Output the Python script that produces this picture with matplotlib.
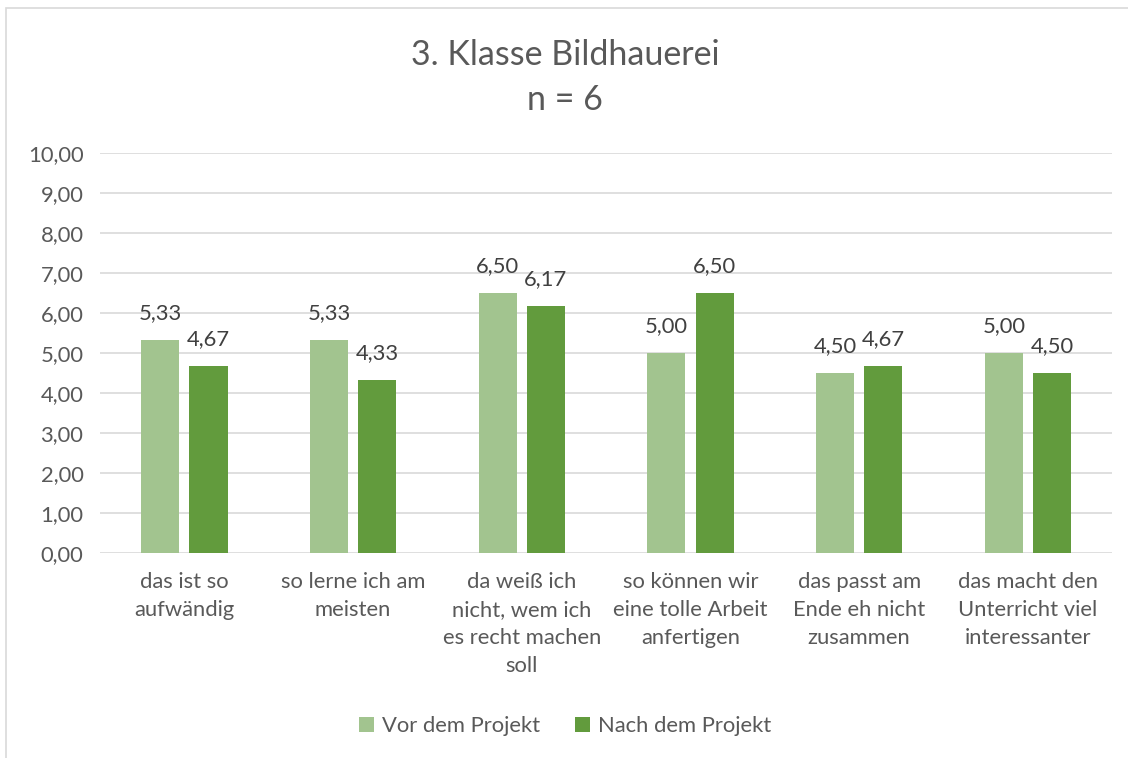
import numpy as np
import matplotlib.pyplot as plt
from matplotlib.patches import Rectangle

plt.rcParams['font.family'] = ['Lato', 'DejaVu Sans']

categories = [
    "das ist so\naufwändig",
    "so lerne ich am\nmeisten",
    "da weiß ich\nnicht, wem ich\nes recht machen\nsoll",
    "so können wir\neine tolle Arbeit\nanfertigen",
    "das passt am\nEnde eh nicht\nzusammen",
    "das macht den\nUnterricht viel\ninteressanter",
]
vor = [5.33, 5.33, 6.50, 5.00, 4.50, 5.00]
nach = [4.67, 4.33, 6.17, 6.50, 4.67, 4.50]
series_names = ["Vor dem Projekt", "Nach dem Projekt"]
yticks = np.arange(0, 11, 1)

c_vor = "#A2C48F"
c_nach = "#629B3D"
txt = "#595959"
fs = 15.8

fig = plt.figure(figsize=(11.28, 7.58), dpi=100)
ax = fig.add_axes([0.0887, 0.2704, 0.8973, 0.5277])

# chart border (only partly visible in the original)
fig.patches.append(Rectangle((6 / 1128, -0.1), 1.2, 1 - 8 / 758 + 0.1,
                             transform=fig.transFigure, fill=False,
                             edgecolor="#D9D9D9", linewidth=1.2))

x = np.arange(len(categories))
w = 0.226
off = 0.143
b1 = ax.bar(x - off, vor, w, color=c_vor, label=series_names[0], zorder=3)
b2 = ax.bar(x + off, nach, w, color=c_nach, label=series_names[1], zorder=3)

for bars, vals in [(b1, vor), (b2, nach)]:
    for r, v in zip(bars, vals):
        ax.annotate(f"{v:.2f}".replace(".", ","), (r.get_x() + r.get_width() / 2, v),
                    xytext=(0, 12), textcoords="offset points",
                    ha="center", va="bottom", fontsize=fs, color="#404040", zorder=4)

ax.set_xlim(-0.5, len(categories) - 0.5)
ax.set_ylim(0, 10)
ax.set_yticks(yticks)
ax.set_yticklabels([f"{t:.2f}".replace(".", ",") for t in yticks])
ax.set_xticks(x)
ax.set_xticklabels(categories, linespacing=1.5)
ax.tick_params(axis="both", length=0, labelsize=fs, colors=txt)
ax.tick_params(axis="x", pad=14)
ax.tick_params(axis="y", pad=12)
ax.grid(axis="y", color="#D9D9D9", linewidth=1.2, zorder=0)
for s in ax.spines.values():
    s.set_visible(False)

fig.text(0.501, 0.927, "3. Klasse Bildhauerei", ha="center", va="center",
         fontsize=24.5, color=txt)
fig.text(0.501, 0.868, "n = 6", ha="center", va="center", fontsize=24.5, color=txt)

leg = fig.legend(loc="center", bbox_to_anchor=(0.501, 0.042), ncol=2, frameon=False,
                 fontsize=fs, handlelength=0.7, handleheight=0.7,
                 handletextpad=0.35, columnspacing=1.6)
for t in leg.get_texts():
    t.set_color(txt)

fig.savefig("out.png", dpi=100)
